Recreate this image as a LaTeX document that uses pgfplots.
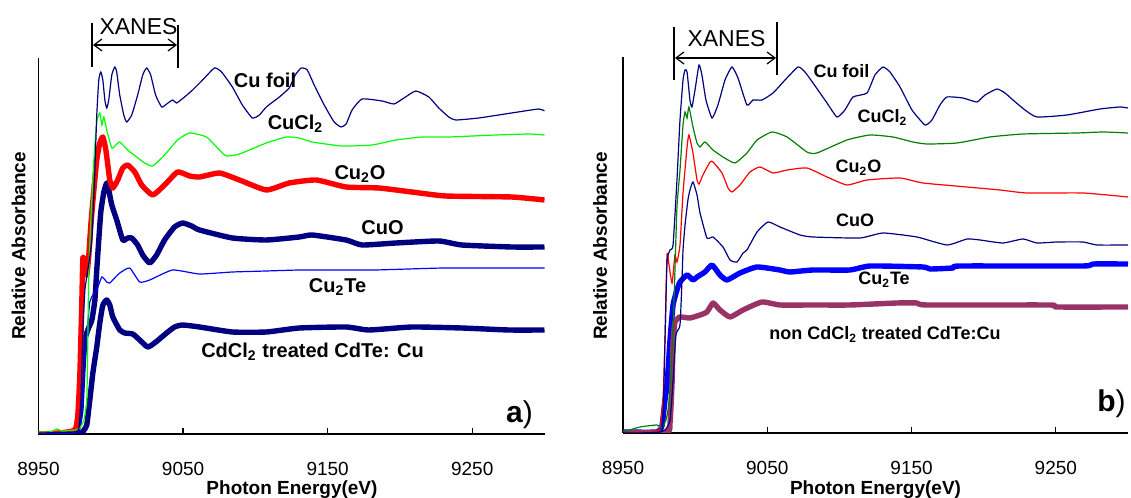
\documentclass[border=0pt]{standalone}
\usepackage{fontspec}
\setmainfont{Liberation Sans}
\usepackage{pgfplots}
\pgfplotsset{compat=1.18}
\usetikzlibrary{arrows.meta}

\definecolor{navy}{RGB}{0,0,128}
\definecolor{lgreen}{RGB}{0,255,0}
\definecolor{dgreen}{RGB}{0,128,0}
\definecolor{pblue}{RGB}{0,0,255}
\definecolor{maroon}{RGB}{153,51,102}

\pgfplotsset{
  xanes/.style={
    scale only axis, anchor=south west,
    width=253pt, height=188pt,
    xmin=8950, xmax=9300, ymin=0, ymax=376,
    axis x line=bottom, axis y line=left,
    axis line style={-, line width=0.6pt},
    xtick={8950,9050,9150,9250},
    xticklabels={8950,9050,9150,9250},
    ytick=\empty,
    tick align=inside, major tick length=3pt,
    tick style={black, line width=0.6pt},
    xticklabel style={font=\fontsize{9.5}{11}\selectfont, yshift=-10.5pt},
  },
  thin/.style={line width=0.6pt, no marks, smooth, tension=0.3},
  thick/.style={line width=2.7pt, no marks, line join=round, smooth, tension=0.3},
}

\begin{document}
\begin{tikzpicture}

% ---------------- panel a ----------------
\begin{axis}[xanes, at={(19.25pt,32pt)}]
% CuO
\addplot[thick, navy] coordinates {
(8950,0) (8975.2,1) (8977.2,6) (8979.3,24) (8980.7,64) (8982.1,94) (8984.1,104)
(8986.9,114) (8989.0,134) (8990.3,164) (8991.7,194) (8993.1,222) (8995.2,242)
(8997.2,251) (8998.6,244) (9000.7,229) (9004.1,214) (9008.3,194) (9011.7,196)
(9014.5,196) (9018.6,189) (9022.1,179) (9026.9,171) (9031.7,179) (9037.2,194)
(9044.1,207) (9049.7,211) (9055.9,208) (9061.4,204) (9084.1,196) (9107.6,194)
(9130.4,197) (9139.3,199) (9162.8,194) (9173.8,189) (9197.3,191) (9226.9,193)
(9242.8,189) (9277.2,187) (9300,187)};
% CdCl2 treated CdTe:Cu
\addplot[thick, navy] coordinates {
(8950,0) (8978.6,1) (8981.4,4) (8983.4,9) (8985.5,34) (8987.6,61) (8990.3,87)
(8992.4,111) (8994.5,129) (8997.2,134) (8999.3,129) (9001.4,117) (9006.2,104)
(9009.7,101) (9015.2,100) (9020.0,94) (9025.5,87) (9030.3,91) (9038.6,101)
(9044.1,107) (9049.7,109) (9061.4,107) (9084.1,102) (9107.6,102) (9130.4,106)
(9162.8,107) (9178.6,104) (9208.3,107) (9242.8,106) (9275.2,104) (9300,104)};
% Cu2O
\addplot[thick, red] coordinates {
(8950,0) (8964.8,1) (8975.2,4) (8977.2,19) (8978.6,59) (8980.0,134) (8980.7,176)
(8982.1,172) (8983.4,159) (8984.8,179) (8986.2,209) (8988.3,244) (8990.3,274)
(8992.4,291) (8994.5,297) (8996.6,284) (8999.3,254) (9001.4,246) (9004.8,254)
(9008.3,266) (9011.7,269) (9016.6,262) (9021.4,249) (9029.0,239) (9037.2,249)
(9046.2,262) (9054.5,258) (9061.4,257) (9075.2,261) (9089.0,254) (9107.6,244)
(9123.4,251) (9142.1,254) (9162.8,247) (9185.5,246) (9208.3,242) (9231.7,238)
(9277.2,237) (9300,234)};
% Cu2Te
\addplot[thin, pblue] coordinates {
(8950,0) (8975.2,1) (8978.6,6) (8980.0,19) (8981.4,54) (8982.8,89) (8984.1,111)
(8985.5,132) (8987.6,139) (8990.3,144) (8993.8,157) (8997.2,152) (8999.3,151)
(9001.4,154) (9006.2,161) (9013.1,166) (9020.0,152) (9026.9,154) (9042.8,164)
(9061.4,160) (9084.1,162) (9107.6,163) (9130.4,164) (9157.9,164) (9183.0,164)
(9230.0,166) (9273.1,166) (9300,166)};
% CuCl2
\addplot[thin, lgreen] coordinates {
(8950,2) (8957.9,2) (8962.8,5) (8966.2,3) (8975.2,4) (8978.6,6) (8981.4,14)
(8983.4,34) (8984.1,94) (8984.8,164) (8986.2,214) (8988.3,274) (8990.3,312)
(8992.4,321) (8993.8,309) (8995.2,317) (8997.2,304) (9000.7,286) (9003.5,289)
(9006.2,292) (9011.7,284) (9017.9,277) (9023.4,271) (9029.0,268) (9037.2,279)
(9046.2,294) (9054.5,301) (9066.2,297) (9075.2,284) (9080.0,278) (9089.0,280)
(9107.6,291) (9121.4,297) (9130.4,296) (9139.3,292) (9160.0,288) (9180.7,289)
(9197.3,294) (9215.2,297) (9233.8,297) (9266.2,299) (9289.0,300) (9300,299)};
% Cu foil
\addplot[thin, navy] coordinates {
(8950,1) (8975.2,2) (8977.9,6) (8979.3,34) (8980.7,104) (8982.1,144) (8984.1,164)
(8986.9,194) (8989.0,264) (8990.3,319) (8991.7,354) (8993.1,362) (8994.5,354)
(8995.9,334) (8997.2,326) (8998.6,334) (9000.7,359) (9002.8,367) (9004.1,362)
(9006.2,339) (9009.0,319) (9011.0,312) (9014.5,319) (9018.6,339) (9022.1,359)
(9024.8,366) (9027.6,359) (9031.0,339) (9035.2,327) (9038.6,330) (9042.8,334)
(9045.5,331) (9051.0,337) (9056.6,344) (9063.5,354) (9071.7,366) (9076.6,362)
(9084.1,347) (9091.0,329) (9097.9,316) (9102.8,319) (9107.6,327) (9116.6,337)
(9123.4,346) (9127.6,359) (9131.7,366) (9135.9,364) (9140.7,349) (9147.6,329)
(9154.5,312) (9159.3,307) (9162.8,310) (9166.9,324) (9173.8,335) (9187.6,333)
(9195.9,330) (9202.8,336) (9211.0,343) (9220.0,337) (9226.9,326) (9233.8,317)
(9238.6,314) (9254.5,316) (9277.2,321) (9295.9,325) (9300,323)};
\end{axis}

% ---------------- panel b ----------------
\begin{axis}[xanes, at={(311.5pt,32.5pt)}, width=252.5pt]
% Cu2Te
\addplot[thick, pblue] coordinates {
(8950,1) (8973.6,1) (8977.0,7) (8979.1,33) (8980.5,48) (8982.6,93) (8984.7,128)
(8987.4,143) (8989.5,151) (8994.4,158) (8998.5,153) (9001.3,156) (9006.8,161)
(9011.7,168) (9017.2,158) (9022.1,153) (9031.1,160) (9042.9,166) (9058.8,163)
(9065.7,161) (9081.7,163) (9107.3,163) (9121.2,167) (9157.9,166) (9162.8,164)
(9178.7,165) (9183.5,167) (9268.8,167) (9275.7,169) (9300,169)};
% non CdCl2 treated CdTe:Cu
\addplot[thick, maroon] coordinates {
(8950,0) (8980.5,1) (8982.6,10) (8984.0,50) (8984.7,90) (8986.0,111) (8989.5,116)
(8996.4,115) (9003.4,118) (9008.2,121) (9012.4,130) (9017.2,123) (9024.2,116)
(9033.2,123) (9046.3,131) (9058.8,128) (9081.7,128) (9107.3,128) (9139.9,130)
(9153.7,130) (9160.7,128) (9245.9,128) (9250.8,126) (9300,126)};
% CuO
\addplot[thin, navy] coordinates {
(8950,0) (8972.2,0) (8979.1,3) (8982.6,13) (8984.7,53) (8986.7,98) (8989.5,108)
(8990.9,153) (8991.6,183) (8993.0,208) (8995.0,233) (8996.4,243) (8998.5,251)
(9001.3,238) (9003.4,220) (9008.2,195) (9012.4,196) (9019.3,186) (9024.2,173)
(9029.0,171) (9033.2,180) (9035.9,183) (9042.9,201) (9050.5,211) (9058.8,206)
(9072.7,198) (9081.7,196) (9114.2,195) (9130.2,200) (9153.7,196) (9174.5,188)
(9188.4,194) (9197.4,193) (9213.3,190) (9227.2,194) (9236.9,190) (9250.8,191)
(9268.8,191) (9278.5,188) (9300,188)};
% Cu2O
\addplot[thin, red] coordinates {
(8950,0) (8972.2,1) (8975.6,5) (8977.7,33) (8979.1,93) (8980.5,178) (8981.9,168)
(8984.0,150) (8986.0,178) (8987.4,171) (8989.5,188) (8991.6,240) (8994.4,286)
(8995.7,298) (8998.5,280) (9001.3,253) (9002.7,249) (9005.4,258) (9010.3,271)
(9012.4,271) (9018.6,260) (9022.8,245) (9025.5,241) (9031.1,248) (9038.0,261)
(9044.9,266) (9054.0,260) (9063.7,263) (9077.5,265) (9091.4,256) (9105.2,248)
(9119.1,253) (9142.0,255) (9157.9,250) (9188.4,246) (9211.3,243) (9230.0,240)
(9268.8,240) (9300,236)};
% CuCl2
\addplot[thin, dgreen] coordinates {
(8950,1) (8961.8,6) (8973.6,8) (8977.0,5) (8979.8,13) (8981.2,23) (8982.6,43)
(8984.7,103) (8986.0,163) (8987.4,226) (8989.5,263) (8991.6,308) (8993.0,321)
(8994.4,315) (8995.7,326) (8998.5,306) (9001.3,290) (9003.4,286) (9006.8,291)
(9012.4,283) (9019.3,276) (9027.6,270) (9035.9,280) (9042.9,293) (9053.3,301)
(9063.7,296) (9077.5,281) (9084.4,280) (9105.2,293) (9121.2,298) (9137.1,296)
(9151.0,291) (9160.7,289) (9181.5,290) (9204.3,296) (9227.2,299) (9264.6,300)
(9282.6,301) (9300,300)};
% Cu foil
\addplot[thin, navy] coordinates {
(8950,0) (8975.6,1) (8977.7,13) (8979.1,93) (8980.5,171) (8982.6,183) (8984.7,188)
(8987.4,253) (8989.5,313) (8991.6,353) (8993.0,363) (8994.4,361) (8996.4,333)
(8997.8,326) (8999.9,343) (9002.7,368) (9004.7,358) (9007.5,333) (9011.7,315)
(9015.8,328) (9020.7,353) (9025.5,366) (9029.7,355) (9035.9,328) (9040.1,333)
(9046.3,333) (9054.0,340) (9062.3,353) (9071.3,366) (9076.1,361) (9081.7,350)
(9091.4,330) (9098.3,316) (9103.8,323) (9109.4,336) (9119.1,340) (9124.6,358)
(9130.2,366) (9135.0,361) (9142.0,346) (9150.3,323) (9159.3,308) (9164.1,313)
(9169.7,328) (9174.5,336) (9185.6,335) (9195.3,331) (9200.9,338) (9209.2,344)
(9214.7,340) (9220.3,333) (9228.6,323) (9236.9,316) (9257.7,318) (9280.6,324)
(9294.4,326) (9300,325)};
\end{axis}

% ---------------- annotations (1 unit = 1 px of the reference) ----------------
\begin{scope}[x=0.5pt, y=0.5pt]
\tikzset{lab/.style={anchor=base, inner sep=0pt, font=\bfseries\fontsize{10}{12}\selectfont},
         labb/.style={anchor=base, inner sep=0pt, font=\bfseries\fontsize{9}{11}\selectfont},
         ax/.style={anchor=base, inner sep=0pt, font=\bfseries\fontsize{9.5}{11}\selectfont}}
% panel a
\draw[line width=1.1pt] (92,475) -- (92,431);
\draw[line width=1.1pt] (178,473) -- (178,430);
\draw[line width=0.6pt, {Straight Barb[length=4pt,width=6pt]}-{Straight Barb[length=4pt,width=6pt]}] (93,453) -- (177,453);
\node[anchor=base, inner sep=0pt, font=\fontsize{11.5}{13}\selectfont] at (138.5,463) {XANES};
\node[lab] at (265,410) {Cu foil};
\node[lab] at (295.5,368) {CuCl\textsubscript{2}};
\node[lab] at (360,318) {Cu\textsubscript{2}O};
\node[lab] at (382.5,263) {CuO};
\node[lab] at (337.5,205) {Cu\textsubscript{2}Te};
\node[lab] at (312.5,140) {CdCl\textsubscript{2} treated CdTe: Cu};
\node[anchor=base, inner sep=0pt, font=\fontsize{15}{17}\selectfont] at (519.5,75) {\textbf{a})};
\node[ax] at (292,3) {Photon Energy(eV)};
\node[rotate=90, inner sep=0pt, font=\bfseries\fontsize{9.5}{11}\selectfont] at (18.5,252) {Relative Absorbance};
% panel b
\draw[line width=1.1pt] (674,471) -- (674,418);
\draw[line width=1.1pt] (777,476) -- (777,423);
\draw[line width=0.6pt, {Straight Barb[length=4pt,width=6pt]}-{Straight Barb[length=4pt,width=6pt]}] (675,440) -- (776,440);
\node[anchor=base, inner sep=0pt, font=\fontsize{11.5}{13}\selectfont] at (726.5,451) {XANES};
\node[labb] at (841.5,420) {Cu foil};
\node[labb] at (882.5,375) {CuCl\textsubscript{2}};
\node[labb] at (858.5,325) {Cu\textsubscript{2}O};
\node[labb] at (855,271) {CuO};
\node[labb] at (884,213) {Cu\textsubscript{2}Te};
\node[labb] at (885,158) {non CdCl\textsubscript{2} treated CdTe:Cu};
\node[anchor=base, inner sep=0pt, font=\fontsize{15}{17}\selectfont] at (1111.5,86) {\textbf{b})};
\node[ax] at (875.5,3) {Photon Energy(eV)};
\node[rotate=90, inner sep=0pt, font=\bfseries\fontsize{9.5}{11}\selectfont] at (600,252) {Relative Absorbance};
\end{scope}

\pgfresetboundingbox
\useasboundingbox (0,0) rectangle (565.5pt,249pt);
\end{tikzpicture}
\end{document}
